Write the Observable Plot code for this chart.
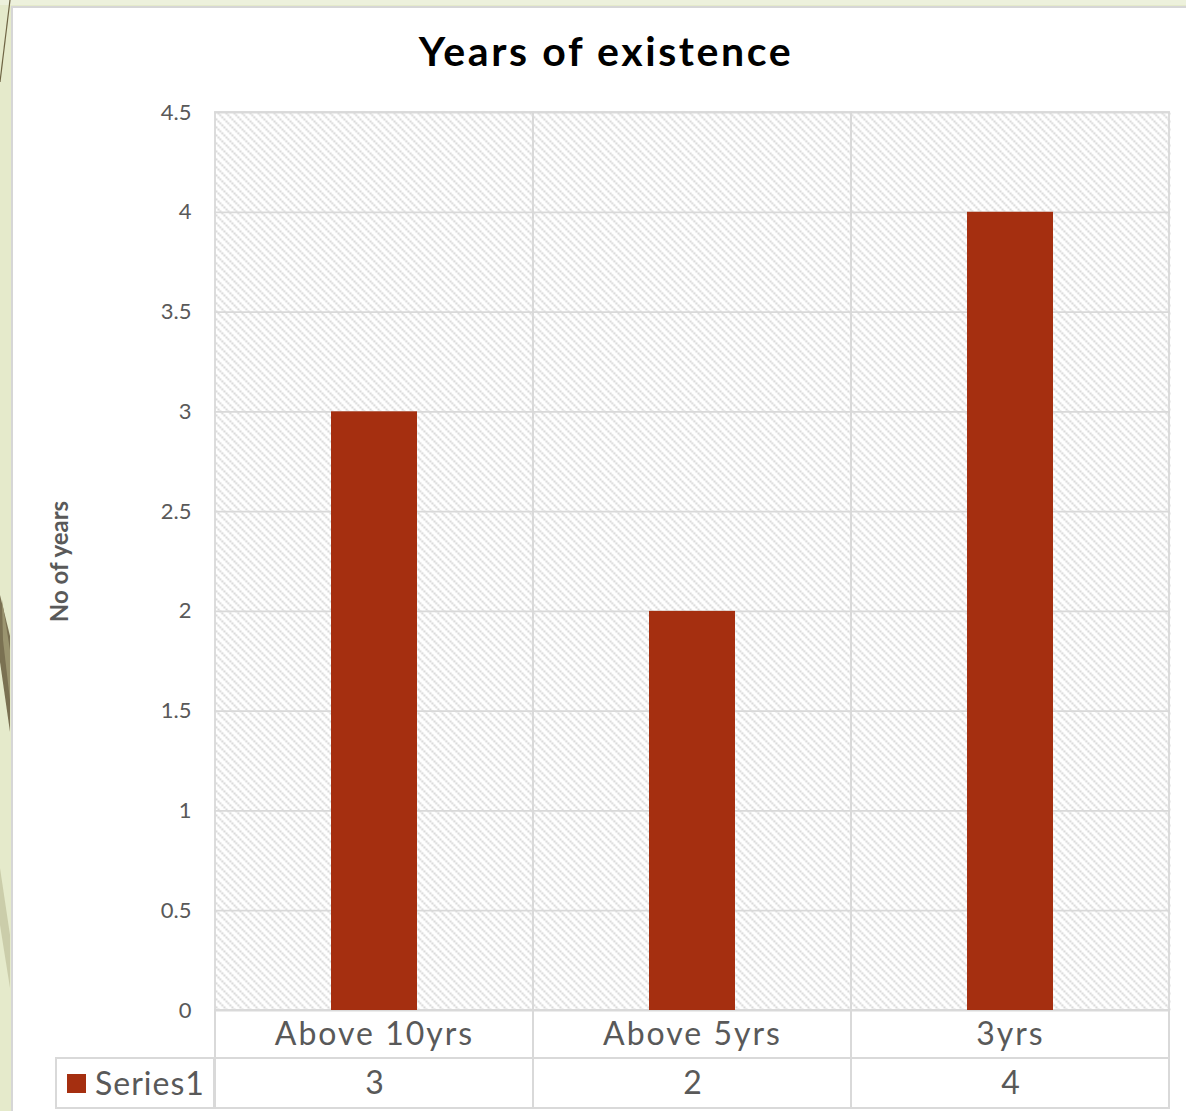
<!DOCTYPE html>
<html>
<head>
<meta charset="utf-8">
<script src="https://cdn.jsdelivr.net/npm/d3@7"></script>
<script src="https://cdn.jsdelivr.net/npm/@observablehq/plot@0.6"></script>
<style>
  html, body { margin: 0; padding: 0; }
  body { width: 1186px; height: 1111px; background: #e5eacb; position: relative; overflow: hidden; font-family: Lato, "Open Sans", sans-serif; }
  #deco { position: absolute; left: 0; top: 0; }
  #topstrip { position: absolute; left: 0; top: 0; width: 1186px; height: 5px; background: #edf1dc; }
  #card { position: absolute; left: 11px; top: 6px; width: 1175px; height: 1105px; background: #ffffff; border-left: 2px solid #d6d6d6; border-top: 2px solid #d6d6d6; box-sizing: border-box; }
  #title { position: absolute; left: 0; top: 26px; width: 1212px; text-align: center; font-family: Lato, sans-serif; font-weight: bold; font-size: 41px; color: #000; letter-spacing: 2.6px; }
  #chart { position: absolute; left: 11px; top: 90px; }
</style>
</head>
<body>
<div id="topstrip"></div>
<svg id="deco" width="12" height="1111">
  <polygon points="0,595 10,636 10,732 0,662" fill="#7a7152"/>
  <polygon points="2,600 10,650 10,700 3,640" fill="#9a946f"/>
  <polygon points="0,868 10,935 10,988 0,925" fill="#cbcdaa"/>
  <line x1="10" y1="0" x2="0" y2="82" stroke="#6f6545" stroke-width="1.2"/>
</svg>
<div id="card"></div>
<div id="title">Years of existence</div>
<div id="chart"></div>
<script>
const categories = ["Above 10yrs", "Above 5yrs", "3yrs"];
const values = [3, 2, 4];
const yTicks = [0, 0.5, 1, 1.5, 2, 2.5, 3, 3.5, 4, 4.5];
const seriesName = "Series1";
const yLabel = "No of years";

const barColor = "#a52f10";
const gridColor = "#d9d9d9";
const textColor = "#595959";

const data = categories.map((c, i) => ({category: c, value: values[i]}));
const yMax = d3.max(yTicks);

const chart = Plot.plot({
  width: 1175,
  height: 1021,
  marginLeft: 203,
  marginRight: 16,
  marginTop: 22,
  marginBottom: 101,
  style: {fontFamily: "Lato, 'Open Sans', sans-serif", color: textColor, background: "transparent", overflow: "visible"},
  x: {domain: categories, padding: 0, label: null},
  y: {domain: [0, yMax], label: null},
  marks: [
    Plot.frame({fill: "url(#hatch)", stroke: null}),
    Plot.gridY(yTicks, {stroke: gridColor, strokeOpacity: 1, strokeWidth: 1.8}),
    Plot.barY(data, {x: "category", y1: 0, y2: yMax, fill: "none", stroke: gridColor, strokeWidth: 1.8}),
    Plot.barY(data, {x: "category", y1: 0, y2: 0, insetBottom: -48, fill: "none", stroke: gridColor, strokeWidth: 2}),
    Plot.barY(data, {x: "category", y1: 0, y2: 0, insetTop: 48, insetBottom: -98, fill: "none", stroke: gridColor, strokeWidth: 2}),
    Plot.barY(data, {x: "category", y: "value", fill: barColor, insetLeft: 116, insetRight: 116}),
    Plot.axisY(yTicks, {tickSize: 0, tickPadding: 23, fontSize: 22, label: null, tickFormat: d => String(d)}),
    Plot.axisX({tickSize: 0, tickPadding: 12, fontSize: 32, label: null, className: "catlabels"}),
    Plot.text(data, {x: "category", y: 0, text: d => String(d.value), dy: 73, fontSize: 32, fill: textColor}),
    Plot.text([yLabel], {frameAnchor: "left", textAnchor: "middle", rotate: -90, dx: -154, fontWeight: "bold", fontSize: 24, fill: textColor})
  ]
});

const svg = d3.select(chart);
const defs = svg.insert("defs", ":first-child");
const pat = defs.append("pattern")
  .attr("id", "hatch")
  .attr("patternUnits", "userSpaceOnUse")
  .attr("width", 8).attr("height", 8);
pat.append("rect").attr("width", 8).attr("height", 8).attr("fill", "#ffffff");
pat.append("path")
  .attr("d", "M0,0 L8,8 M-4,4 L4,12 M4,-4 L12,4")
  .attr("stroke", "#d2d2d2")
  .attr("stroke-width", 2)
  .attr("stroke-dasharray", "2,1");

// wider letter spacing on category labels (Century Gothic-like width)
svg.selectAll("g[aria-label='x-axis tick label'] text").style("letter-spacing", "2px");

// legend cell of the data table
const ys = chart.scale("y");
const y0 = ys.apply(0);
const xLeft = 203;
const leg = svg.append("g");
leg.append("rect")
  .attr("x", xLeft - 158).attr("y", y0 + 48)
  .attr("width", 158).attr("height", 50)
  .attr("fill", "none").attr("stroke", gridColor).attr("stroke-width", 2);
leg.append("rect")
  .attr("x", xLeft - 147).attr("y", y0 + 64)
  .attr("width", 19).attr("height", 19)
  .attr("fill", barColor);
leg.append("text")
  .attr("x", xLeft - 119).attr("y", y0 + 85)
  .attr("text-anchor", "start")
  .attr("font-size", 32).attr("fill", textColor)
  .attr("font-family", "Lato, 'Open Sans', sans-serif")
  .style("letter-spacing", "1px")
  .text(seriesName);

document.getElementById("chart").appendChild(chart);
</script>
</body>
</html>
